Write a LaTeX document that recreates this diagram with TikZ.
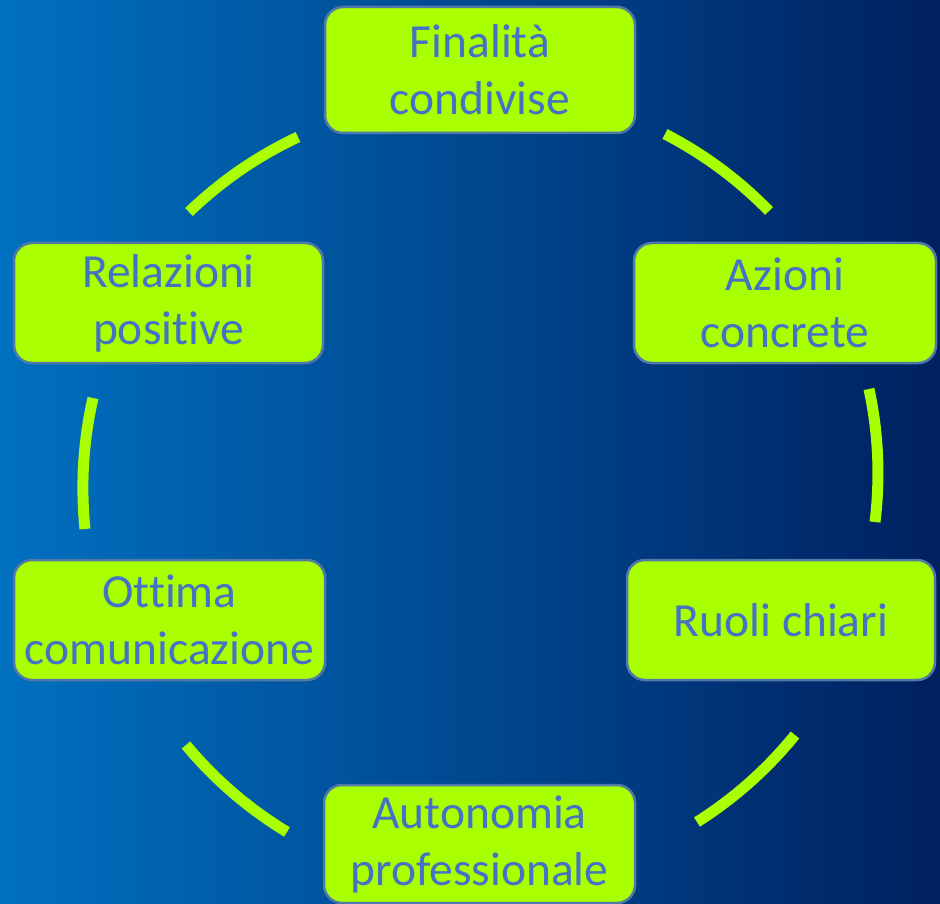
\documentclass[tikz,border=0pt]{standalone}
\usepackage{fontspec}
\setmainfont{Carlito}[Ligatures=NoCommon]
\usetikzlibrary{calc}
\definecolor{bgL}{HTML}{0070C0}
\definecolor{bgR}{HTML}{002060}
\definecolor{lime}{HTML}{AAFF00}
\definecolor{txtblue}{HTML}{4472C4}
\definecolor{edge}{HTML}{5079AA}
\tikzset{
  box/.style={draw=edge, line width=2.5pt, fill=lime, rounded corners=18pt,
    minimum width=308pt, minimum height=120pt, align=center, inner sep=0pt,
    text=txtblue, font=\fontsize{47.5}{57}\selectfont},
  arcline/.style={draw=lime, line width=11pt, line cap=butt}
}
\begin{document}
\begin{tikzpicture}[x=1pt,y=-1pt]
\shade[left color=bgL, right color=bgR] (0,0) rectangle (940,904);
\useasboundingbox (0,0) rectangle (940,904);

\node[box, minimum height=126pt, minimum width=310pt] (fin) at (480,70) {Finalità\\condivise};
\node[box, minimum width=302pt] (azi) at (785,303) {Azioni\\concrete};
\node[box] (ruo) at (781,620) {Ruoli chiari};
\node[box, minimum width=311pt, minimum height=118pt] (aut) at (479.5,844) {Autonomia\\professionale};
\node[box, minimum width=311pt] (ott) at (169.5,620) {Ottima\\comunicazione};
\node[box, minimum width=309pt] (rel) at (168.5,303) {Relazioni\\positive};

% arc endpoints and quadratic control points
\coordinate (a1) at (189,212); \coordinate (q1) at (237.3,165.5); \coordinate (b1) at (298,137);
\coordinate (a2) at (665,134); \coordinate (q2) at (723.2,164.1); \coordinate (b2) at (769,211);
\coordinate (a3) at (869,389); \coordinate (q3) at (883.1,455);   \coordinate (b3) at (875,522);
\coordinate (a4) at (795,735); \coordinate (q4) at (753.1,786.5); \coordinate (b4) at (697,822);
\coordinate (a5) at (287,832); \coordinate (q5) at (229.2,796.9); \coordinate (b5) at (186,745);
\coordinate (a6) at (85,529);  \coordinate (q6) at (78.3,462.8);  \coordinate (b6) at (93,398);

\foreach \i in {1,...,6}{
  \path[arcline] (a\i) .. controls ($(a\i)!2/3!(q\i)$) and ($(b\i)!2/3!(q\i)$) .. (b\i);
}
\end{tikzpicture}
\end{document}
